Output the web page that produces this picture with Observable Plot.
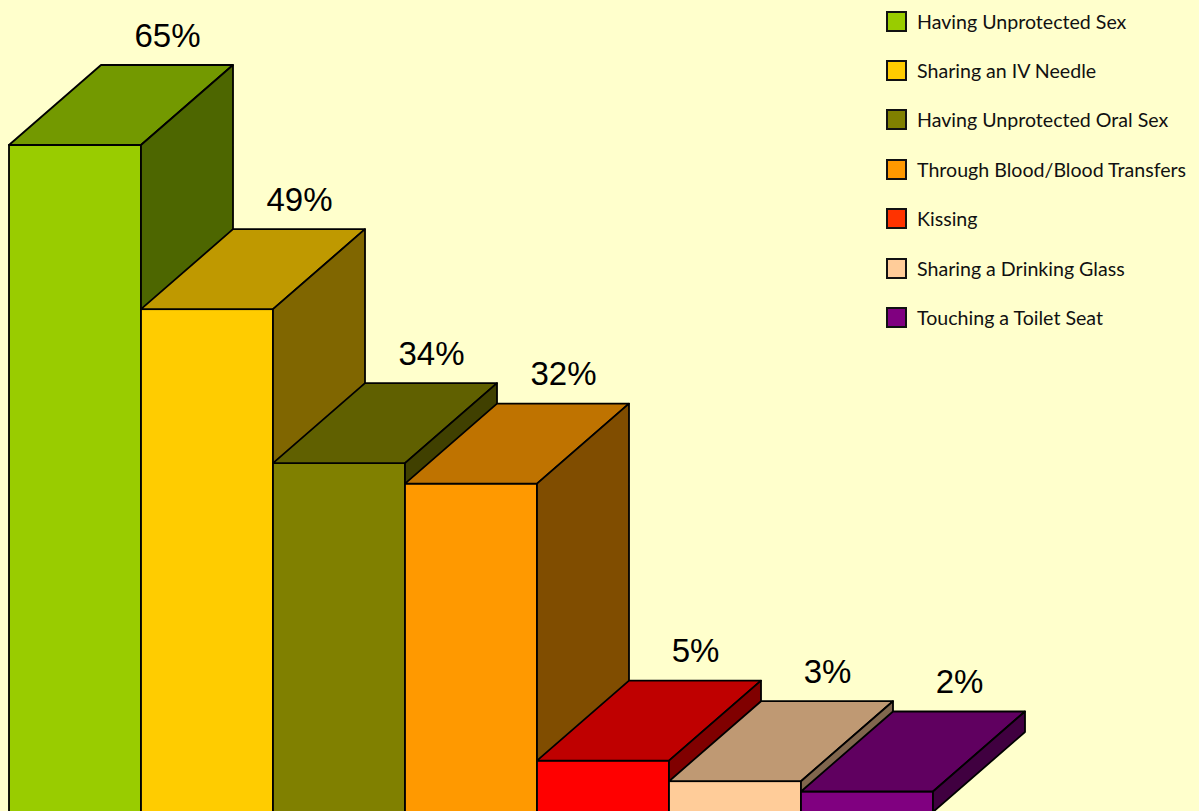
<!DOCTYPE html>
<html>
<head>
<meta charset="utf-8">
<script src="https://cdn.jsdelivr.net/npm/d3@7"></script>
<script src="https://cdn.jsdelivr.net/npm/@observablehq/plot@0.6"></script>
<style>
  html, body { margin: 0; padding: 0; background: #FFFFCC; overflow: hidden; }
  #wrap { position: relative; width: 1199px; height: 811px; }
  #legend { position: absolute; left: 886px; top: 0; font-family: Lato, "Open Sans", sans-serif; font-size: 19.6px; color: #111; }
  .row { position: absolute; left: 0; display: flex; align-items: center; height: 24px; white-space: nowrap; }
  .sw { width: 17px; height: 17px; border: 2px solid #111; margin-right: 10px; box-sizing: content-box; }
</style>
</head>
<body>
<div id="wrap"><div id="legend"></div></div>
<script>
const categories = [
  "Having Unprotected Sex",
  "Sharing an IV Needle",
  "Having Unprotected Oral Sex",
  "Through Blood/Blood Transfers",
  "Kissing",
  "Sharing a Drinking Glass",
  "Touching a Toilet Seat"
];
const values = [65, 49, 34, 32, 5, 3, 2];
const frontColors = ["#99CC00", "#FFCC00", "#808000", "#FF9900", "#FF0000", "#FFCC99", "#800080"];
const legendColors = ["#99CC00", "#FFCC00", "#808000", "#FF9900", "#FF3300", "#FFCC99", "#800080"];

// 3D geometry (styling constants)
const DX = 92 / 132;            // depth in bar widths
const DY = 80 / (667 / 65);     // depth in value units
const shade = (c, k) => { const r = d3.rgb(c); return d3.rgb(r.r * k, r.g * k, r.b * k).formatHex(); };

const data = categories.map((c, i) => ({ i, category: c, value: values[i], color: frontColors[i] }));

const marks = [];
for (const d of data) {
  const { i, value: v, color } = d;
  marks.push(Plot.rect([d], {
    x1: () => i, x2: () => i + 1, y1: () => 0, y2: () => v,
    fill: color, stroke: "#000", strokeWidth: 1.8
  }));
  const top = [
    { x: i, y1: v, y2: v },
    { x: i + DX, y1: v, y2: v + DY },
    { x: i + 1, y1: v, y2: v + DY },
    { x: i + 1 + DX, y1: v + DY, y2: v + DY }
  ];
  marks.push(Plot.areaY(top, { x: "x", y1: "y1", y2: "y2", fill: shade(color, 0.75), stroke: "#000", strokeWidth: 1.8, strokeLinejoin: "round", curve: "linear" }));
  const side = [
    { x: i + 1, y1: 0, y2: v },
    { x: i + 1 + DX, y1: DY, y2: v + DY }
  ];
  marks.push(Plot.areaY(side, { x: "x", y1: "y1", y2: "y2", fill: shade(color, 0.5), stroke: "#000", strokeWidth: 1.8, strokeLinejoin: "round", curve: "linear" }));
}
marks.push(Plot.text(data, {
  x: d => d.i + 0.5 + DX, y: d => d.value + DY, text: d => d.value + "%",
  dy: -19, dx: 0, lineAnchor: "bottom", fontSize: 33, fill: "#000",
  fontFamily: "'Liberation Sans', Arial, sans-serif"
}));

const chart = Plot.plot({
  width: 1199, height: 811,
  margin: 0,
  style: { background: "#FFFFCC", overflow: "visible" },
  x: { domain: [0, 7], range: [9, 933], axis: null },
  y: { domain: [0, 65], range: [812, 145], axis: null },
  marks
});
chart.style.position = "absolute";
chart.style.left = "0";
chart.style.top = "0";
const wrap = document.getElementById("wrap");
wrap.insertBefore(chart, wrap.firstChild);

const legend = document.getElementById("legend");
categories.forEach((c, i) => {
  const row = document.createElement("div");
  row.className = "row";
  row.style.top = (21 + i * 49.4 - 12) + "px";
  const sw = document.createElement("div");
  sw.className = "sw";
  sw.style.background = legendColors[i];
  const t = document.createElement("span");
  t.textContent = c;
  row.appendChild(sw); row.appendChild(t);
  legend.appendChild(row);
});
</script>
</body>
</html>
